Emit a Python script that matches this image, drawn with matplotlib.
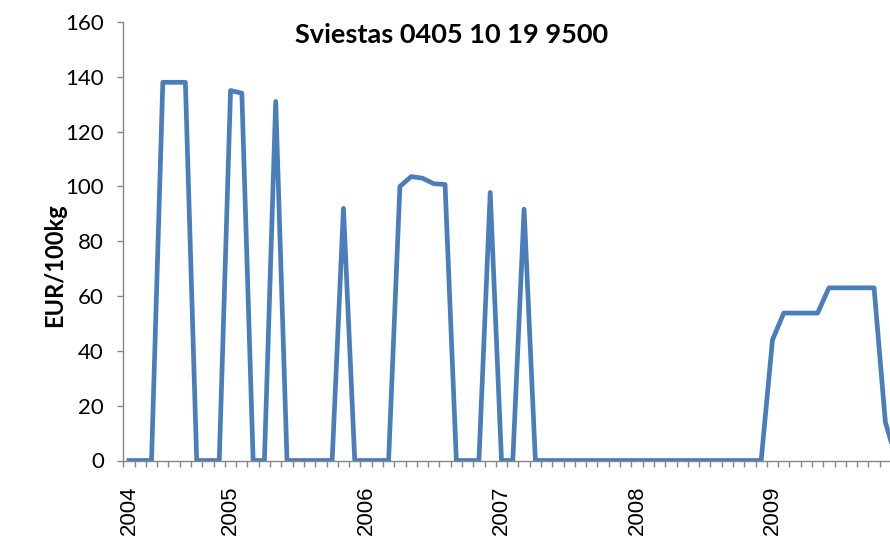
import matplotlib
matplotlib.use('Agg')
import matplotlib.pyplot as plt
import numpy as np

# monthly values, Apr 2004 .. Dec 2009 (EUR/100kg)
values = [0, 0, 0, 138, 138, 138, 0, 0, 0,                     # 2004 Apr-Dec
          135, 134, 0, 0, 131, 0, 0, 0, 0, 0, 92, 0,            # 2005
          0, 0, 0, 100, 103.6, 103, 101, 100.7, 0, 0, 0, 97.8,  # 2006
          0, 0, 91.7, 0, 0, 0, 0, 0, 0, 0, 0, 0,                # 2007
          0, 0, 0, 0, 0, 0, 0, 0, 0, 0, 0, 0,                   # 2008
          44, 53.8, 53.8, 53.8, 53.8, 63, 63, 63, 63, 63, 14, 0]  # 2009
year_labels = ['2004', '2005', '2006', '2007', '2008', '2009']
year_start = [0, 9, 21, 33, 45, 57]

x = np.arange(len(values))
grey = '#868686'

fig = plt.figure(figsize=(8.9, 5.4), dpi=100)
ax = fig.add_axes([123.3 / 890, 79.5 / 540, 779 / 890, 438.5 / 540])
ax.plot(x, values, color='#4A7EBB', lw=3.4, solid_joinstyle='round')

ax.set_xlim(-0.5, len(values) - 0.5)
ax.set_ylim(0, 160)
ax.set_yticks(range(0, 161, 20))
for t in ax.get_yticklabels():
    t.set_fontfamily('Lato')
    t.set_fontsize(16)
ax.tick_params(axis='y', length=4, color=grey, width=1, pad=10)

ax.set_xticks(year_start)
ax.set_xticklabels(year_labels, rotation=90, fontsize=16, family='Liberation Sans')
ax.set_xticks(np.arange(-0.5, len(values), 1), minor=True)
ax.tick_params(axis='x', which='major', length=0, pad=18)
ax.tick_params(axis='x', which='minor', length=4, color=grey, width=1)

for s in ['top', 'right']:
    ax.spines[s].set_visible(False)
for s in ['left', 'bottom']:
    ax.spines[s].set_color(grey)
    ax.spines[s].set_linewidth(1)

fig.text(452 / 890, 1 - 35 / 540, 'Sviestas 0405 10 19 9500', ha='center', va='center',
         fontsize=19.5, fontweight='bold', family='Lato')
fig.text(55 / 890, 1 - 265 / 540, 'EUR/100kg', rotation=90, ha='center', va='center',
         fontsize=17, fontweight='bold', family='Lato')

fig.savefig('out.png', dpi=100)
